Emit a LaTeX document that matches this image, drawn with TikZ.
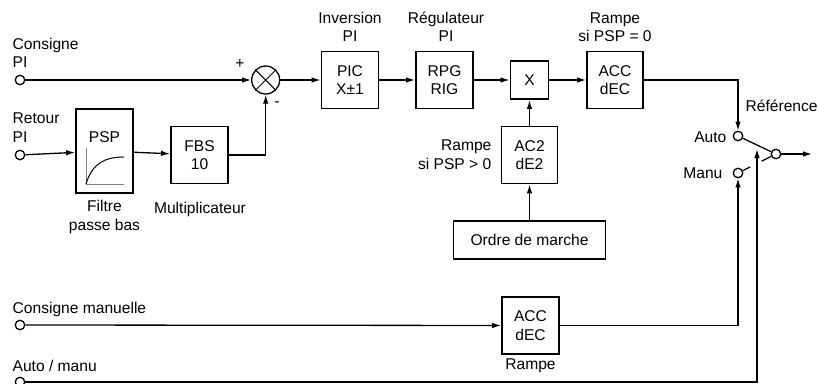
\documentclass[tikz,border=0pt]{standalone}
\usepackage{fontspec}
\setmainfont{Liberation Sans}
\usetikzlibrary{arrows.meta,calc}
\begin{document}
\begin{tikzpicture}[x=1pt,y=-1pt,font=\fontsize{15.6}{18.5}\selectfont,
 line width=1.3pt,>={Latex[length=9pt,width=5.5pt]},
 blk/.style={draw,line width=1.8pt,minimum width=57pt,minimum height=57pt,align=center,inner sep=0pt},
 term/.style={draw,circle,line width=1.3pt,minimum size=9.5pt,inner sep=0pt,fill=white},
 lbl/.style={align=center,inner sep=0pt}]
 \useasboundingbox (0,0) rectangle (818,383);
 % entrees
 \foreach \n/\y in {cp/80,rp/155,cm/325,am/382} {
  \node[term] (\n) at (20,\y) {};
 }
 \node[lbl,align=left,anchor=west] (cpl) at (12,53) {Consigne\\PI};
 \node[lbl,align=left,anchor=west] (rpl) at (12,127.5) {Retour\\PI};
 \node[lbl,anchor=west] (cml) at (12,309) {Consigne manuelle};
 \node[lbl,anchor=west] (aml) at (12,365.5) {Auto / manu};
 % filtre et multiplicateur
 \node[blk,minimum height=84pt] (psp) at (104.5,151) {};
 \node[lbl] (pspl) at (104.5,137.5) {PSP};
 \draw[gray,line width=0.9pt] (86,148) -- (86,184) -- (124,184);
 \draw[line width=1pt] (86,184) .. controls (92,164) and (104,157) .. (124,157);
 \node[lbl] (psplab) at (104.5,217) {Filtre\\passe bas};
 \node[blk] (fbs) at (199.5,155) {FBS\\10};
 \node[lbl] (fbslab) at (200,209) {Multiplicateur};
 % comparateur
 \node[draw,circle,line width=1.3pt,minimum size=28pt,inner sep=0pt] (sum) at (265.7,80) {};
 \draw[line width=1pt] (sum.north east) -- (sum.south west) (sum.north west) -- (sum.south east);
 \node[lbl] (plus) at (240,64) {+};
 \node[lbl] (moins) at (277,104) {-};
 % chaine auto
 \node[blk] (pic) at (350,80) {PIC\\X±1};
 \node[lbl] (picl) at (350,27) {Inversion\\PI};
 \node[blk] (rpg) at (444.5,80) {RPG\\RIG};
 \node[lbl] (rpgl) at (446,27) {Régulateur\\PI};
 \node[blk,minimum width=38pt,minimum height=38pt] (mul) at (529.5,80) {X};
 \node[blk,minimum width=56pt] (acc) at (615,80) {ACC\\dEC};
 \node[lbl] (accl) at (615,27) {Rampe\\si PSP = 0};
 \node[blk,minimum width=56pt] (ac2) at (529.5,155) {AC2\\dE2};
 \node[lbl,align=right,anchor=east] (ac2l) at (492,154.5) {Rampe\\si PSP > 0};
 \node[blk,minimum width=152pt,minimum height=38pt] (ordre) at (529.5,240) {Ordre de marche};
 % chaine manuelle
 \node[blk] (accm) at (530.5,325.5) {ACC\\dEC};
 \node[lbl] (accml) at (530.5,366) {Rampe};
 % commutateur
 \node[term] (auto) at (738,136) {};
 \node[term] (manu) at (738,173) {};
 \node[term] (out) at (776,154) {};
 \node[lbl,anchor=east] (autol) at (727,137) {Auto};
 \node[lbl,anchor=east] (manul) at (723,173) {Manu};
 \node[lbl,anchor=west] (refl) at (745,106) {Référence};
 \coordinate (ctl) at (757,149);
 \coordinate (ref) at (812,154);
 \draw[->] (cp) -- (sum);
 \draw[->] (rp) -- (psp);
 \draw[->] (psp) -- (fbs);
 \draw[->] (fbs.east) -| (sum.south);
 \draw[->] (sum) -- (pic);
 \draw[->] (pic) -- (rpg);
 \draw[->] (rpg) -- (mul);
 \draw[->] (mul) -- (acc);
 \draw[->] (ordre) -- (ac2);
 \draw[->] (ac2) -- (mul);
 \draw[->] (acc.east) -| (auto.north);
 \draw[->] (cm) -- (accm);
 \draw[->] (accm.east) -| (manu.south);
 \draw[->] (am) -| (ctl);
 \draw (auto) -- (out);
 \draw (manu) -- ($(manu)!0.32!(out)$);
 \draw ($(manu)!0.62!(out)$) -- (out);
 \draw[->] (out) -- (ref);
\end{tikzpicture}
\end{document}
